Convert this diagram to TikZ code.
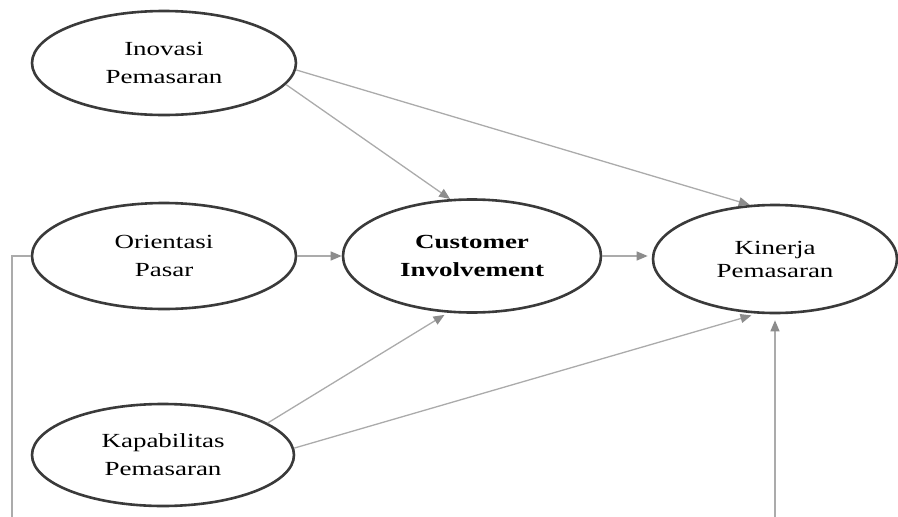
\documentclass[tikz,border=0pt]{standalone}
\usepackage{fontspec}
\setmainfont{Liberation Serif}[FakeStretch=1.35]
\usetikzlibrary{shapes.geometric,arrows.meta}
\definecolor{linegray}{HTML}{ABABAB}
\definecolor{tipgray}{HTML}{8C8C8C}
\definecolor{ringgray}{HTML}{3A3A3A}
\tikzset{
  construct/.style={ellipse, draw=ringgray, line width=2.6pt, inner sep=0pt,
    align=center, font=\fontsize{20}{28}\selectfont, text=black},
  path/.style={draw=linegray, line width=1.3pt,
    -{Triangle[length=11pt,width=9pt,color=tipgray]}},
  plain/.style={draw=linegray, line width=1.3pt}
}
\begin{document}
\begin{tikzpicture}[x=1pt,y=-1pt]
\useasboundingbox (0,0) rectangle (898,517);
\node[construct, minimum width=264pt, minimum height=104pt] (inov) at (164,63) {Inovasi\\Pemasaran};
\node[construct, minimum width=264pt, minimum height=106pt] (ori) at (164,256) {Orientasi\\Pasar};
\node[construct, minimum width=258pt, minimum height=113pt] (cust) at (472,256) {\bfseries Customer\\\bfseries Involvement};
\node[construct, minimum width=244pt, minimum height=108pt, font=\fontsize{20}{23}\selectfont] (kin) at (775,259) {Kinerja\\Pemasaran};
\node[construct, minimum width=262pt, minimum height=102pt] (kap) at (163,455) {Kapabilitas\\Pemasaran};
\coordinate (lb) at (12,517);
\coordinate (rb) at (775,517);
\draw[path] (inov.-10) -- (cust.111);
\draw[path] (inov.-3) -- (kin.115);
\draw[path] (ori.east) -- (cust.west);
\draw[path, shorten >=4pt] (cust.east) -- (cust.east -| kin.west);
\draw[path, shorten >=4pt] (kap.17) -- (cust.247);
\draw[path, shorten >=6pt] (kap.3) -- (kin.252);
\draw[path, shorten >=6pt] (rb) -- (kin.south);
\draw[plain] (ori.west) -| (lb);
\end{tikzpicture}
\end{document}
